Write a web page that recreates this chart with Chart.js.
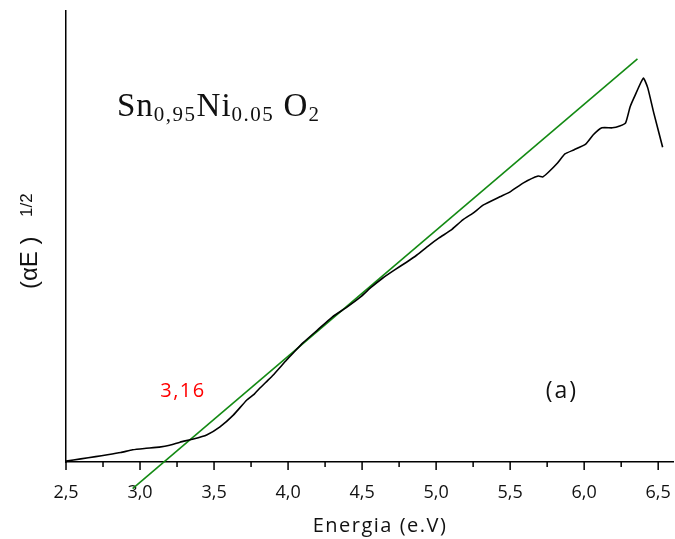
<!DOCTYPE html>
<html>
<head>
<meta charset="utf-8">
<script src="https://cdn.jsdelivr.net/npm/chart.js@4/dist/chart.umd.min.js"></script>
<style>
  html, body { margin: 0; padding: 0; background: #fff; }
  #wrap { width: 675px; height: 539px; }
</style>
</head>
<body>
<div id="wrap"><canvas id="chart" width="675" height="539"></canvas></div>
<script>
const energy = [2.50, 2.60, 2.70, 2.78, 2.87, 2.95, 3.03, 3.13, 3.20, 3.27, 3.36, 3.45, 3.54, 3.63,
  3.72, 3.77, 3.81, 3.86, 3.90, 3.99, 4.03, 4.10, 4.20, 4.30, 4.40, 4.49, 4.56, 4.64, 4.72, 4.80,
  4.87, 4.95, 5.02, 5.10, 5.18, 5.25, 5.32, 5.43, 5.50, 5.59, 5.69, 5.72, 5.76, 5.82, 5.87, 5.93,
  6.01, 6.06, 6.12, 6.19, 6.24, 6.28, 6.31, 6.34, 6.40, 6.43, 6.47, 6.53];
const sqrtAE = [0.02, 0.07, 0.12, 0.16, 0.21, 0.27, 0.30, 0.33, 0.37, 0.44, 0.51, 0.60, 0.78, 1.04,
  1.37, 1.50, 1.64, 1.80, 1.93, 2.26, 2.40, 2.64, 2.93, 3.22, 3.44, 3.66, 3.87, 4.08, 4.26, 4.43,
  4.59, 4.80, 4.97, 5.14, 5.37, 5.52, 5.70, 5.88, 5.99, 6.19, 6.34, 6.32, 6.43, 6.63, 6.83, 6.92,
  7.05, 7.25, 7.41, 7.41, 7.45, 7.52, 7.87, 8.10, 8.51, 8.29, 7.74, 6.98];

// linear fit (Tauc extrapolation)
const fitEnergy = [2.95, 6.36];
const fitValue = [-0.59, 8.94];
const gapValue = "3,16";

const tickValues = [2.5, 3.0, 3.5, 4.0, 4.5, 5.0, 5.5, 6.0, 6.5];
const tickLabels = ["2,5", "3,0", "3,5", "4,0", "4,5", "5,0", "5,5", "6,0", "6,5"];

const toPoints = (xs, ys) => xs.map((v, i) => ({ x: v, y: ys[i] }));

// draws minor/major tick marks, titles and the labels in the plot
const overlay = {
  id: "overlay",
  afterDraw(chart) {
    const { ctx, chartArea, scales: { x, y } } = chart;
    ctx.save();

    ctx.strokeStyle = "#000";
    ctx.lineWidth = 1.5;
    x.ticks.forEach(t => {
      const px = x.getPixelForValue(t.value);
      const major = Math.abs(t.value * 2 - Math.round(t.value * 2)) < 1e-6;
      ctx.beginPath();
      ctx.moveTo(px, chartArea.bottom);
      ctx.lineTo(px, chartArea.bottom + (major ? 8 : 5));
      ctx.stroke();
    });

    ctx.fillStyle = "#111";
    ctx.textBaseline = "alphabetic";

    // x title
    ctx.font = '20px "Open Sans"';
    ctx.letterSpacing = "1.5px";
    ctx.textAlign = "center";
    ctx.fillText("Energia (e.V)", 380, 532);

    // y title, rotated
    ctx.letterSpacing = "0px";
    ctx.save();
    ctx.translate(37, 289);
    ctx.rotate(-Math.PI / 2);
    ctx.textAlign = "left";
    ctx.font = '24px "Liberation Sans"';
    ctx.fillText("(\u03b1E )", 0, 0);
    ctx.font = '17px "Liberation Sans"';
    ctx.fillText("1/2", 72, -5);
    ctx.restore();

    // compound name with subscripts
    const parts = [
      ["Sn", 33, 0], ["0,95", 21, 5], ["Ni", 33, 0], ["0.05", 21, 5], [" O", 33, 0], ["2", 21, 5]
    ];
    let cx = 117;
    ctx.textAlign = "left";
    parts.forEach(([txt, size, drop]) => {
      ctx.font = size + 'px "Liberation Serif"';
      ctx.letterSpacing = size > 25 ? "1px" : "1.5px";
      ctx.fillText(txt, cx, 116 + drop);
      cx += ctx.measureText(txt).width;
    });

    // band gap value and panel letter
    ctx.textBaseline = "middle";
    ctx.textAlign = "center";
    ctx.font = '20px "Open Sans"';
    ctx.letterSpacing = "1.5px";
    ctx.fillStyle = "#ff0000";
    ctx.fillText(gapValue, x.getPixelForValue(3.29), y.getPixelForValue(1.57));
    ctx.fillStyle = "#111";
    ctx.font = '23px "Open Sans"';
    ctx.letterSpacing = "2px";
    ctx.fillText("(a)", x.getPixelForValue(5.85), y.getPixelForValue(1.57));

    ctx.restore();
  }
};

new Chart(document.getElementById("chart"), {
  type: "line",
  data: {
    datasets: [
      {
        data: toPoints(energy, sqrtAE),
        borderColor: "#000",
        borderWidth: 1.6,
        pointRadius: 0,
        tension: 0.15,
      },
      {
        data: toPoints(fitEnergy, fitValue),
        borderColor: "#138a13",
        borderWidth: 1.6,
        pointRadius: 0,
        tension: 0,
        clip: false,
      },
    ],
  },
  options: {
    responsive: false,
    animation: false,
    layout: { padding: { top: 11, right: 2, left: 0, bottom: 0 } },
    plugins: {
      legend: { display: false },
      tooltip: { enabled: false },
    },
    scales: {
      x: {
        type: "linear",
        min: 2.5,
        max: 6.6,
        grid: { display: false, drawTicks: false },
        border: { display: true, color: "#000", width: 1.5 },
        ticks: {
          stepSize: 0.25,
          includeBounds: false,
          autoSkip: false,
          maxRotation: 0,
          padding: 20,
          color: "#111",
          font: { family: "Open Sans", size: 18 },
          callback: (v) => {
            const i = tickValues.findIndex(t => Math.abs(t - v) < 1e-6);
            return i >= 0 ? tickLabels[i] : "";
          },
        },
        afterFit: (s) => { s.height = 77; s.paddingLeft = 0; s.paddingRight = 0; },
      },
      y: {
        min: 0,
        max: 10,
        grid: { display: false, drawTicks: false },
        border: { display: true, color: "#000", width: 1.5 },
        ticks: { display: false },
        afterFit: (s) => { s.width = 66; s.paddingTop = 0; s.paddingBottom = 0; },
      },
    },
  },
  plugins: [overlay],
});
</script>
</body>
</html>
